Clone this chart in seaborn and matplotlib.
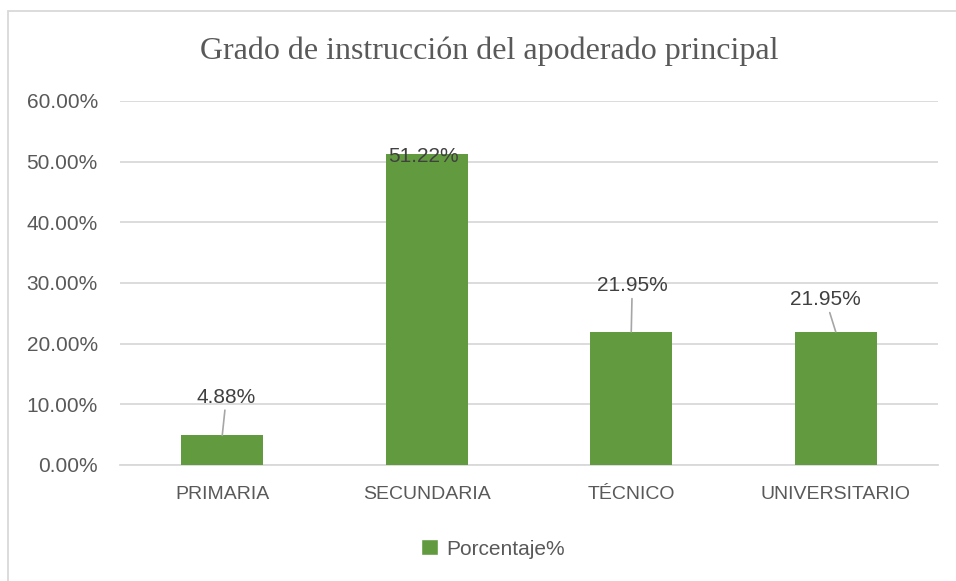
import matplotlib
matplotlib.use("Agg")
import matplotlib.pyplot as plt
import matplotlib.ticker as mticker
from matplotlib.patches import Patch, Rectangle
import pandas as pd
import seaborn as sns

# data
categories = ["PRIMARIA", "SECUNDARIA", "TÉCNICO", "UNIVERSITARIO"]
percentages = [0.0488, 0.5122, 0.2195, 0.2195]
series_name = "Porcentaje%"
title = "Grado de instrucción del apoderado principal"
y_ticks = [0.0, 0.1, 0.2, 0.3, 0.4, 0.5, 0.6]

bar_color = "#629B3F"
text_color = "#595959"
grid_color = "#d9d9d9"

df = pd.DataFrame({"grado": categories, "pct": percentages})

sns.set_theme(style="white")
plt.rcParams["font.family"] = ["Liberation Sans", "DejaVu Sans"]

fig = plt.figure(figsize=(9.56, 5.81), dpi=100)
W, H = 956, 581
ax = fig.add_axes([120 / W, 1 - 465 / H, (938 - 120) / W, (465 - 101) / H])

sns.barplot(data=df, x="grado", y="pct", color=bar_color, saturation=1,
            width=0.4, ax=ax, zorder=3, linewidth=0)

ax.set_ylim(0, 0.6)
ax.set_xlim(-0.5, len(categories) - 0.5)
ax.set_yticks(y_ticks)
ax.yaxis.set_major_formatter(mticker.FuncFormatter(lambda v, p: f"{v:.2%}"))
ax.grid(axis="y", color=grid_color, linewidth=1.3, zorder=0)
ax.set_axisbelow(True)
for s in ["top", "right", "left"]:
    ax.spines[s].set_visible(False)
ax.spines["bottom"].set_color(grid_color)
ax.spines["bottom"].set_linewidth(1.3)
ax.tick_params(axis="both", length=0, colors=text_color, labelsize=15)
ax.tick_params(axis="x", pad=15, labelsize=14)
ax.tick_params(axis="y", pad=16)
ax.set_xlabel("")
ax.set_ylabel("")

# data labels, placed like the reference (offsets in pixels)
offsets = [(4, 38), (-3, -2), (1, 46), (-10, 32)]
for i, (v, off) in enumerate(zip(percentages, offsets)):
    arrow = None
    if off[1] > 10:
        arrow = dict(arrowstyle="-", color="#a6a6a6", lw=1.2, shrinkA=0, shrinkB=0)
    ax.annotate(f"{v:.2%}", xy=(i, v), xytext=off, textcoords="offset pixels",
                ha="center", va="center", fontsize=15, color="#404040",
                arrowprops=arrow, zorder=5)

fig.text(489 / W, 1 - 51 / H, title, ha="center", va="center",
         fontsize=23, color=text_color, family=["Liberation Serif", "DejaVu Serif"])

fig.legend(handles=[Patch(facecolor=bar_color, label=series_name)],
           loc="center", bbox_to_anchor=(493 / W, 1 - 549 / H), frameon=False,
           fontsize=15, labelcolor=text_color, handlelength=0.8, handleheight=0.8,
           handletextpad=0.4)

# chart-area border
fig.patches.append(Rectangle((8 / W, -0.1), 1.2, 1 - 11 / H + 0.1,
                             transform=fig.transFigure, fill=False,
                             edgecolor=grid_color, linewidth=1.3))

fig.savefig("out.png", dpi=100)
